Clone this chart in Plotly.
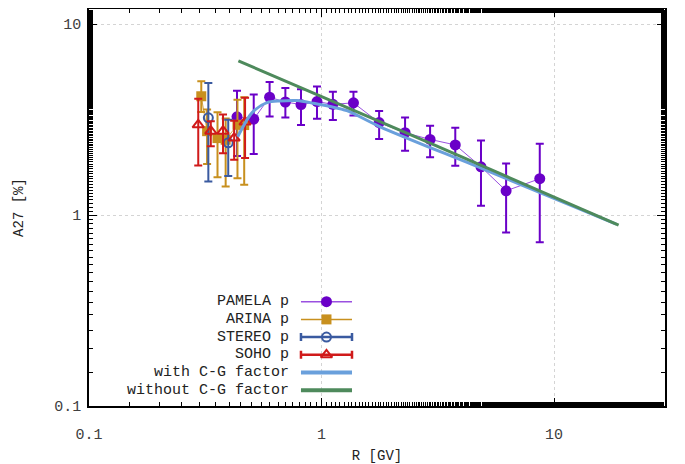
import plotly.graph_objects as go

# ---------------- data ----------------
pamela_x = [0.433, 0.511, 0.598, 0.699, 0.816, 0.956, 1.119, 1.372, 1.769, 2.287, 2.93, 3.76, 4.85, 6.22, 8.68]
pamela_y = [3.27, 3.18, 4.14, 3.91, 3.79, 3.93, 3.80, 3.87, 3.05, 2.70, 2.49, 2.33, 1.79, 1.34, 1.55]
pamela_hi = [4.48, 4.28, 4.98, 4.63, 4.56, 4.71, 4.42, 4.42, 3.51, 3.24, 2.94, 2.87, 2.46, 1.86, 2.36]
pamela_lo = [2.04, 2.09, 3.28, 3.24, 2.96, 3.19, 3.15, 3.32, 2.50, 2.17, 2.01, 1.81, 1.12, 0.81, 0.72]

arina_x = [0.304, 0.322, 0.357, 0.387, 0.435, 0.465]
arina_y = [4.19, 2.75, 2.53, 2.48, 2.97, 2.96]
arina_hi = [5.02, 3.57, 3.46, 3.20, 4.02, 4.14]
arina_lo = [3.47, 1.85, 1.58, 1.41, 1.56, 1.44]

stereo_x = [0.326, 0.397]
stereo_y = [3.23, 2.39]
stereo_hi = [4.92, 3.16]
stereo_lo = [1.50, 1.60]

soho_x = [0.295, 0.334, 0.377, 0.421, 0.469]
soho_y = [2.97, 2.75, 2.75, 2.53, 3.07]
soho_hi = [4.07, 3.10, 3.36, 3.12, 4.11]
soho_lo = [1.82, 2.29, 2.11, 1.95, 1.99]

cg_x = [0.436, 0.503, 0.583, 0.665, 0.784, 0.924, 1.090, 1.285, 1.786, 4.85, 18.5]
cg_y = [2.57, 3.44, 3.88, 3.96, 3.98, 3.85, 3.70, 3.52, 2.90, 1.76, 0.897]

nocg_x = [0.439, 2.93, 18.95]
nocg_y = [6.42, 2.38, 0.886]

legend_labels = ["PAMELA p", "ARINA p", "STEREO p", "SOHO p", "with C-G factor", "without C-G factor"]

# ---------------- styles ----------------
C_PAM = "#6a00c8"
C_PAM_LINE = "#9a50e0"
C_ARI = "#c8901e"
C_STE = "#3a5aa0"
C_SOH = "#d01a1a"
C_CG = "#6aa0dc"
C_NOCG = "#4e8a5c"
MONO = "Liberation Mono, Courier New, monospace"


def err(y, hi, lo):
    return [h - v for h, v in zip(hi, y)], [v - l for v, l in zip(y, lo)]


fig = go.Figure()

# PAMELA
p, m = err(pamela_y, pamela_hi, pamela_lo)
fig.add_trace(go.Scatter(x=pamela_x, y=pamela_y, mode="lines+markers",
                         line=dict(color=C_PAM_LINE, width=1),
                         marker=dict(symbol="circle", size=11, color=C_PAM),
                         error_y=dict(type="data", array=p, arrayminus=m, color=C_PAM, thickness=2, width=4),
                         showlegend=False))
# ARINA
p, m = err(arina_y, arina_hi, arina_lo)
fig.add_trace(go.Scatter(x=arina_x, y=arina_y, mode="lines+markers",
                         line=dict(color=C_ARI, width=0.8),
                         marker=dict(symbol="square", size=10, color=C_ARI),
                         error_y=dict(type="data", array=p, arrayminus=m, color=C_ARI, thickness=2, width=4),
                         showlegend=False))
# STEREO
p, m = err(stereo_y, stereo_hi, stereo_lo)
fig.add_trace(go.Scatter(x=stereo_x, y=stereo_y, mode="markers",
                         marker=dict(symbol="circle-open", size=9, color=C_STE, line=dict(width=2)),
                         error_y=dict(type="data", array=p, arrayminus=m, color=C_STE, thickness=2, width=4),
                         showlegend=False))
# SOHO
p, m = err(soho_y, soho_hi, soho_lo)
fig.add_trace(go.Scatter(x=soho_x, y=soho_y, mode="markers",
                         marker=dict(symbol="triangle-up-open", size=10, color=C_SOH, line=dict(width=2)),
                         error_y=dict(type="data", array=p, arrayminus=m, color=C_SOH, thickness=2, width=4),
                         showlegend=False))
# model curves (drawn on top, as in the reference)
fig.add_trace(go.Scatter(x=cg_x, y=cg_y, mode="lines",
                         line=dict(color=C_CG, width=3, shape="spline", smoothing=0.8), showlegend=False))
fig.add_trace(go.Scatter(x=nocg_x, y=nocg_y, mode="lines",
                         line=dict(color=C_NOCG, width=3), showlegend=False))

# ---------------- custom gnuplot-style key (overlay axes) ----------------
rows_v = [0.2627, 0.2181, 0.1735, 0.1289, 0.0843, 0.0397]
u0, u1, uc = 0.368, 0.4566, 0.4123
for i, (lab, v) in enumerate(zip(legend_labels, rows_v)):
    fig.add_annotation(x=0.351, y=v, xref="paper", yref="paper", text=lab, showarrow=False,
                       xanchor="right", yanchor="middle", font=dict(family=MONO, size=15, color="#222"))
for v, col, w in [(rows_v[0], C_PAM_LINE, 1.5), (rows_v[1], C_ARI, 1.5), (rows_v[4], C_CG, 4), (rows_v[5], C_NOCG, 4)]:
    fig.add_trace(go.Scatter(x=[u0, u1], y=[v, v], mode="lines", line=dict(color=col, width=w),
                             xaxis="x2", yaxis="y2", showlegend=False, hoverinfo="skip"))
fig.add_trace(go.Scatter(x=[uc], y=[rows_v[0]], mode="markers", marker=dict(symbol="circle", size=11, color=C_PAM),
                         xaxis="x2", yaxis="y2", showlegend=False, hoverinfo="skip"))
fig.add_trace(go.Scatter(x=[uc], y=[rows_v[1]], mode="markers", marker=dict(symbol="square", size=10, color=C_ARI),
                         xaxis="x2", yaxis="y2", showlegend=False, hoverinfo="skip"))
fig.add_trace(go.Scatter(x=[uc], y=[rows_v[2]], mode="markers",
                         marker=dict(symbol="circle-open", size=9, color=C_STE, line=dict(width=2)),
                         error_x=dict(type="constant", value=(u1 - u0) / 2, color=C_STE, thickness=2.5, width=4),
                         xaxis="x2", yaxis="y2", showlegend=False, hoverinfo="skip"))
fig.add_trace(go.Scatter(x=[uc], y=[rows_v[3]], mode="markers",
                         marker=dict(symbol="triangle-up-open", size=10, color=C_SOH, line=dict(width=2)),
                         error_x=dict(type="constant", value=(u1 - u0) / 2, color=C_SOH, thickness=2.5, width=4),
                         xaxis="x2", yaxis="y2", showlegend=False, hoverinfo="skip"))

tickfont = dict(family=MONO, size=15, color="#404040")
common = dict(type="log", showline=True, linecolor="black", linewidth=1.5, mirror="allticks",
              ticks="inside", ticklen=8, tickwidth=1, tickcolor="black", tickfont=tickfont,
              showgrid=True, gridcolor="#d4d4d4", griddash="dot", gridwidth=1, zeroline=False,
              dtick=1, minor=dict(ticks="inside", ticklen=4, tickcolor="black", showgrid=False))

# the page places the figure 8px from the top-left corner, so size/margins compensate
fig.update_layout(
    width=677, height=456,
    margin=dict(l=81, r=20, t=1, b=58, autoexpand=False),
    paper_bgcolor="white", plot_bgcolor="white",
    showlegend=False,
    xaxis=dict(**common, range=[-1, 1.4771], tickvals=[0.1, 1, 10], ticktext=["0.1", "1", "10"],
               ticklabelstandoff=13, automargin=False,
               title=dict(text="R [GV]", font=dict(family=MONO, size=14, color="#222"), standoff=12)),
    yaxis=dict(**common, range=[-1, 1.0792], tickvals=[0.1, 1, 10], ticktext=["0.1", "1", "10"],
               ticklabelstandoff=3, automargin=False,
               title=dict(text="A27 [%]", font=dict(family=MONO, size=14, color="#222"), standoff=27)),
    xaxis2=dict(overlaying="x", range=[0, 1], visible=False, fixedrange=True),
    yaxis2=dict(overlaying="y", range=[0, 1], visible=False, fixedrange=True),
)

fig.write_html("out.html")
